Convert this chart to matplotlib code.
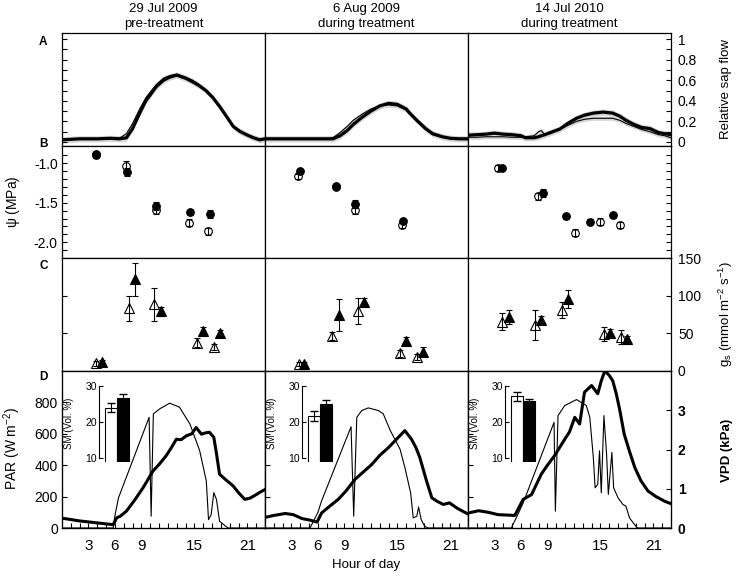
import numpy as np
import matplotlib
matplotlib.use("Agg")
from matplotlib import pyplot as plt

plt.rcParams["font.family"] = ["Liberation Sans", "DejaVu Sans"]
plt.rcParams["mathtext.default"] = "regular"

dates = ["29 Jul 2009", "6 Aug 2009", "14 Jul 2010"]
phases = ["pre-treatment", "during treatment", "during treatment"]

# A: relative sap flow, thick and thin line per day
sap_h_1 = [0, 2, 4, 5.5, 6.5, 7.3, 8, 8.8, 9.5, 10.7, 11.5, 12.2, 13, 14, 14.8, 15.5, 16.3, 17.1, 17.9, 18.7, 19.4, 20.2, 20.9, 21.7, 22.4, 23]
sap_thick_1 = [0.02, 0.03, 0.03, 0.035, 0.03, 0.04, 0.13, 0.28, 0.40, 0.54, 0.60, 0.63, 0.65, 0.62, 0.585, 0.55, 0.50, 0.43, 0.34, 0.24, 0.15, 0.10, 0.07, 0.04, 0.02, 0.03]
sap_thin_1 = [0.02, 0.03, 0.03, 0.035, 0.035, 0.08, 0.18, 0.32, 0.43, 0.56, 0.62, 0.645, 0.66, 0.63, 0.60, 0.56, 0.50, 0.43, 0.34, 0.24, 0.15, 0.10, 0.07, 0.04, 0.025, 0.03]

sap_h_2 = [0, 2, 4, 6, 7, 7.7, 8.5, 9.3, 10, 11, 12, 13, 14, 15, 16, 16.4, 17.2, 18.2, 19, 20.1, 21, 22, 23]
sap_thick_2 = [0.03, 0.03, 0.03, 0.03, 0.03, 0.03, 0.06, 0.11, 0.17, 0.24, 0.30, 0.35, 0.375, 0.365, 0.32, 0.28, 0.21, 0.13, 0.08, 0.05, 0.035, 0.03, 0.03]
sap_thin_2 = [0.03, 0.03, 0.03, 0.03, 0.03, 0.04, 0.09, 0.15, 0.21, 0.27, 0.32, 0.35, 0.36, 0.35, 0.31, 0.27, 0.20, 0.12, 0.07, 0.045, 0.03, 0.025, 0.025]

sap_h_3 = [0, 1, 2, 3, 4, 5, 6, 6.5, 7.5, 8.0, 8.3, 8.7, 9.3, 10.4, 11.3, 12.3, 13.2, 14.2, 15.3, 16.4, 17.2, 17.9, 18.8, 19.7, 20.6, 21.6, 22.3, 23]
sap_thick_3 = [0.065, 0.07, 0.075, 0.085, 0.075, 0.07, 0.06, 0.04, 0.04, 0.05, 0.06, 0.07, 0.09, 0.125, 0.18, 0.23, 0.26, 0.28, 0.29, 0.28, 0.25, 0.21, 0.17, 0.14, 0.13, 0.09, 0.08, 0.07]
sap_thin_3 = [0.045, 0.045, 0.05, 0.05, 0.05, 0.045, 0.045, 0.05, 0.06, 0.10, 0.11, 0.07, 0.08, 0.12, 0.16, 0.20, 0.22, 0.23, 0.23, 0.23, 0.21, 0.18, 0.15, 0.12, 0.10, 0.07, 0.06, 0.04]

# B: leaf water potential (MPa), open = control, filled = treatment
psi_open_h = [[3.8, 7.2, 10.6, 14.35, 16.5], [3.7, 8.0, 10.2, 15.5], [3.35, 7.95, 12.1, 15.0, 17.2]]
psi_open = [[-0.90, -1.03, -1.59, -1.75, -1.86], [-1.165, -1.30, -1.59, -1.78], [-1.06, -1.42, -1.88, -1.74, -1.78]]
psi_open_err = [[0.03, 0.06, 0.05, 0.04, 0.045], [0.03, 0.03, 0.05, 0.04], [0.04, 0.05, 0.045, 0.045, 0.04]]
psi_fill_h = [[3.9, 7.4, 10.6, 14.5, 16.8], [3.95, 8.0, 10.25, 15.65], [3.9, 8.5, 11.1, 13.8, 16.4]]
psi_fill = [[-0.885, -1.11, -1.54, -1.62, -1.64], [-1.10, -1.29, -1.51, -1.73], [-1.06, -1.38, -1.67, -1.74, -1.66]]
psi_fill_err = [[0.03, 0.05, 0.05, 0.03, 0.05], [0.03, 0.03, 0.05, 0.03], [0.03, 0.05, 0.03, 0.03, 0.03]]

# C: stomatal conductance
gs_open_h = [[3.8, 7.6, 10.4, 15.3, 17.2], [3.84, 7.6, 10.5, 15.25, 17.2], [3.9, 7.6, 10.6, 15.4, 17.3]]
gs_open = [[10.2, 83, 88.5, 37.6, 31.4], [9.3, 46.4, 79.6, 23.4, 18.1], [65.5, 61, 81, 49, 45.5]]
gs_open_err = [[3, 17, 22, 6, 4], [2.5, 5, 17, 5, 4], [11, 20, 11, 9, 9]]
gs_fill_h = [[4.55, 8.3, 11.2, 16.0, 17.85], [4.4, 8.36, 11.2, 16.0, 17.9], [4.6, 8.3, 11.3, 16.1, 18.0]]
gs_fill = [[11.5, 121.7, 79.6, 53, 50], [9.5, 74, 92, 40, 25.6], [72, 67.7, 95, 51, 42]]
gs_fill_err = [[2.5, 22, 6, 5, 5], [2.5, 21, 5, 5, 6], [9, 5, 12, 5, 5]]

# D: PAR (thin) and VPD (thick)
par_h_1 = [0, 5.8, 6.0, 6.4, 9.87, 10.1, 10.35, 11.1, 12.2, 13.3, 14.5, 15.6, 16.35, 16.6, 16.9, 17.2, 17.5, 17.85, 18.8, 23]
par_1 = [0, 0, 80, 192, 705, 75, 727, 760, 795, 770, 662, 492, 300, 53, 85, 225, 182, 43, 0, 0]
vpd_h_1 = [0, 2, 4, 5.8, 6.2, 6.6, 7.3, 8.2, 9.2, 10.3, 11.0, 11.8, 12.4, 12.95, 13.5, 14.1, 14.7, 15.2, 15.8, 16.2, 16.7, 17.2, 17.5, 17.85, 18.6, 19.4, 20.0, 20.7, 21.3, 22.0, 22.5, 23.0]
vpd_1 = [0.25, 0.18, 0.13, 0.085, 0.26, 0.30, 0.43, 0.70, 1.03, 1.45, 1.62, 1.84, 2.05, 2.26, 2.25, 2.35, 2.40, 2.56, 2.39, 2.42, 2.44, 2.31, 1.9, 1.37, 1.22, 1.07, 0.90, 0.73, 0.76, 0.85, 0.92, 0.98]

par_h_2 = [0, 5.1, 6.0, 6.4, 9.75, 10.05, 10.4, 10.96, 11.7, 12.85, 13.4, 14.2, 15.3, 15.85, 16.5, 16.8, 17.2, 17.4, 17.7, 18.1, 18.5, 23]
par_2 = [0, 0, 100, 171, 645, 75, 705, 748, 765, 748, 727, 620, 502, 385, 224, 64, 75, 133, 53, 10, 0, 0]
vpd_h_2 = [0, 1, 2.3, 3.2, 4.2, 5.1, 5.9, 6.4, 7.3, 8.3, 9.2, 10.2, 11.1, 12.1, 13.0, 14.0, 15.1, 15.85, 16.6, 17.1, 17.55, 18.3, 18.9, 19.5, 20.2, 20.9, 21.8, 22.8, 23]
vpd_2 = [0.27, 0.32, 0.37, 0.34, 0.24, 0.20, 0.15, 0.38, 0.55, 0.73, 0.95, 1.24, 1.42, 1.62, 1.85, 2.05, 2.31, 2.48, 2.26, 2.05, 1.79, 1.2, 0.77, 0.68, 0.6, 0.64, 0.50, 0.38, 0.36]

par_h_3 = [0, 4.9, 5.6, 6.25, 9.75, 9.9, 10.2, 10.96, 12.3, 13.4, 13.8, 14.2, 14.4, 14.7, 14.9, 15.1, 15.4, 15.7, 15.9, 16.3, 16.5, 17.0, 17.55, 17.9, 18.3, 18.9, 19.2, 23]
par_3 = [0, 0, 80, 160, 673, 107, 716, 780, 818, 780, 705, 449, 256, 278, 492, 224, 716, 470, 214, 481, 256, 192, 150, 139, 64, 20, 0, 0]
vpd_h_3 = [0, 1.2, 2.3, 3.4, 4.4, 5.3, 6.25, 7.2, 8.3, 9.0, 9.8, 10.96, 11.5, 12.1, 12.65, 13.2, 14.0, 14.7, 15.1, 15.5, 16.0, 16.4, 16.8, 17.2, 17.7, 18.3, 18.9, 19.6, 20.4, 21.3, 22.3, 23]
vpd_3 = [0.38, 0.44, 0.40, 0.34, 0.33, 0.32, 0.73, 0.85, 1.37, 1.60, 1.84, 2.26, 2.45, 2.82, 2.65, 3.46, 3.63, 3.42, 3.75, 4.0, 3.89, 3.75, 3.42, 3.00, 2.39, 1.95, 1.54, 1.20, 0.94, 0.80, 0.68, 0.62]

# inset: soil moisture (Vol. %)
sm_open = [23.9, 21.6, 27.0]
sm_open_err = [1.2, 1.3, 1.2]
sm_fill = [26.5, 24.8, 25.8]
sm_fill_err = [1.1, 1.2, 0.6]

sap_h = [sap_h_1, sap_h_2, sap_h_3]
sap_thick = [sap_thick_1, sap_thick_2, sap_thick_3]
sap_thin = [sap_thin_1, sap_thin_2, sap_thin_3]
par_h = [par_h_1, par_h_2, par_h_3]
par = [par_1, par_2, par_3]
vpd_h = [vpd_h_1, vpd_h_2, vpd_h_3]
vpd = [vpd_1, vpd_2, vpd_3]

W, H = 736, 576
fig = plt.figure(figsize=(W / 100, H / 100), dpi=100)

col_x = [62, 265, 468, 671]
row_y = [33, 146, 258, 371, 528]


def box(x0, x1, y0, y1):
    return [x0 / W, 1 - y1 / H, (x1 - x0) / W, (y1 - y0) / H]


tick_kw = dict(direction="in", length=3.5, width=0.8, labelsize=10)
err_kw = dict(mec="black", mew=0.8, ecolor="black", elinewidth=0.8, capsize=2.5, capthick=0.8)

for c in range(3):
    axs = [fig.add_axes(box(col_x[c], col_x[c + 1], row_y[r], row_y[r + 1])) for r in range(4)]
    for ax in axs:
        ax.set_xlim(0, 23)
        for s in ax.spines.values():
            s.set_linewidth(0.9)
        ax.tick_params(axis="both", which="both", **tick_kw)
        ax.tick_params(axis="y", which="both", left=(c == 0), right=(c == 2),
                       labelleft=False, labelright=False)
        ax.tick_params(axis="x", which="both", bottom=False, labelbottom=False)
    axA, axB, axC, axD = axs

    # A
    h = np.array(sap_h[c])
    thick = np.array(sap_thick[c])
    thin = np.array(sap_thin[c])
    axA.fill_between(h, thick - 0.03, thick + 0.03, color="#d4d4d4", lw=0)
    axA.fill_between(h, thin - 0.02, thin + 0.02, color="#d4d4d4", lw=0)
    axA.plot(h, thin, color="black", lw=0.8)
    axA.plot(h, thick, color="black", lw=2.3)
    axA.set_ylim(-0.04, 1.06)
    axA.set_yticks([0, 0.2, 0.4, 0.6, 0.8, 1.0])
    axA.set_yticklabels(["0", "0.2", "0.4", "0.6", "0.8", "1"])
    axA.set_yticks(np.arange(0.1, 1.0, 0.2), minor=True)

    # B
    axB.errorbar(psi_open_h[c], psi_open[c], yerr=psi_open_err[c], fmt="o", ms=5.5,
                 mfc="none", **err_kw)
    axB.errorbar(psi_fill_h[c], psi_fill[c], yerr=psi_fill_err[c], fmt="o", ms=5.5,
                 mfc="black", **err_kw)
    axB.set_ylim(-2.2, -0.78)
    axB.set_yticks([-2.0, -1.5, -1.0])
    axB.set_yticklabels(["-2.0", "-1.5", "-1.0"])
    axB.set_yticks([-2.1, -1.9, -1.8, -1.7, -1.6, -1.4, -1.3, -1.2, -1.1, -0.9], minor=True)

    # C
    axC.errorbar(gs_open_h[c], gs_open[c], yerr=gs_open_err[c], fmt="^", ms=6.5,
                 mfc="none", **err_kw)
    axC.errorbar(gs_fill_h[c], gs_fill[c], yerr=gs_fill_err[c], fmt="^", ms=6.5,
                 mfc="black", **err_kw)
    axC.set_ylim(0, 150)
    if c == 2:
        axC.set_yticks([0, 50, 100, 150])
    else:
        axC.set_yticks([50, 100])

    # D
    axD.plot(par_h[c], par[c], color="black", lw=0.8)
    axD.set_ylim(0, 1000)
    axD.set_yticks([0, 200, 400, 600, 800])
    axD.tick_params(axis="x", which="both", bottom=True, labelbottom=True, pad=8, labelsize=11)
    axD.set_xticks([3, 6, 9, 15, 21])
    axD.set_xticks(range(1, 23), minor=True)
    twin = axD.twinx()
    twin.plot(vpd_h[c], vpd[c], color="black", lw=2.2)
    twin.set_ylim(0, 4)
    twin.set_yticks([0, 1, 2, 3])
    twin.tick_params(axis="y", which="both", **tick_kw)
    twin.tick_params(axis="y", left=False, labelleft=False, right=(c == 2), labelright=(c == 2))
    axD.tick_params(axis="y", right=False)

    if c == 0:
        axB.tick_params(axis="y", labelleft=True, pad=3)
        axD.tick_params(axis="y", labelleft=True, pad=3)
    if c == 2:
        axA.tick_params(axis="y", labelright=True, pad=5)
        axC.tick_params(axis="y", labelright=True, pad=5)
        twin.tick_params(axis="y", pad=5)
        for t in twin.get_yticklabels():
            t.set_fontweight("bold")

    # inset soil moisture
    ins = fig.add_axes(box(col_x[c] + 37.3, col_x[c] + 69, 385.5, 461.6))
    ins.patch.set_alpha(0)
    ins.bar([1, 2], [sm_open[c], sm_fill[c]], width=1.0, bottom=0,
            color=["white", "black"], edgecolor="black", linewidth=0.8)
    ins.errorbar([1, 2], [sm_open[c], sm_fill[c]], yerr=[sm_open_err[c], sm_fill_err[c]],
                 fmt="none", ecolor="black", elinewidth=0.8, capsize=3)
    ins.set_xlim(0, 2.7)
    ins.set_ylim(9, 30)
    for side in ["top", "right", "bottom"]:
        ins.spines[side].set_visible(False)
    ins.spines["left"].set_bounds(10, 30)
    ins.spines["left"].set_linewidth(0.8)
    ins.set_xticks([])
    ins.set_yticks([10, 20, 30])
    ins.tick_params(axis="y", direction="in", length=3, width=0.8, labelsize=7.5, pad=1.5)
    ins.set_ylabel("SM (Vol. %)", fontsize=7)
    ins.yaxis.set_label_coords(-0.8, 0.5)

    # column titles
    cx = (col_x[c] + col_x[c + 1]) / 2
    fig.text(cx / W, 1 - 12 / H, dates[c], ha="center", va="baseline", fontsize=9.5)
    fig.text(cx / W, 1 - 27 / H, phases[c], ha="center", va="baseline", fontsize=9.5)

# panel letters
for letter, yy in zip("ABCD", [42, 144, 266, 377]):
    fig.text(39 / W, 1 - yy / H, letter, ha="left", va="center", fontsize=8.5, fontweight="bold")

# axis labels
fig.text(13 / W, 1 - 202 / H, r"$\psi$ (MPa)", rotation=90, ha="center", va="center", fontsize=10)
fig.text(12 / W, 1 - 449 / H, "PAR (W m$^{-2}$)", rotation=90, ha="center", va="center", fontsize=10)
fig.text(726 / W, 1 - 89 / H, "Relative sap flow", rotation=90, ha="center", va="center", fontsize=9.5)
fig.text(726 / W, 1 - 314 / H, "g$_s$ (mmol m$^{-2}$ s$^{-1}$)", rotation=90, ha="center", va="center", fontsize=9.5)
fig.text(727 / W, 1 - 450 / H, "VPD (kPa)", rotation=90, ha="center", va="center", fontsize=9.5, fontweight="bold")
fig.text(366 / W, 1 - 565 / H, "Hour of day", ha="center", va="center", fontsize=9.5)

fig.savefig("out.png", dpi=100)
